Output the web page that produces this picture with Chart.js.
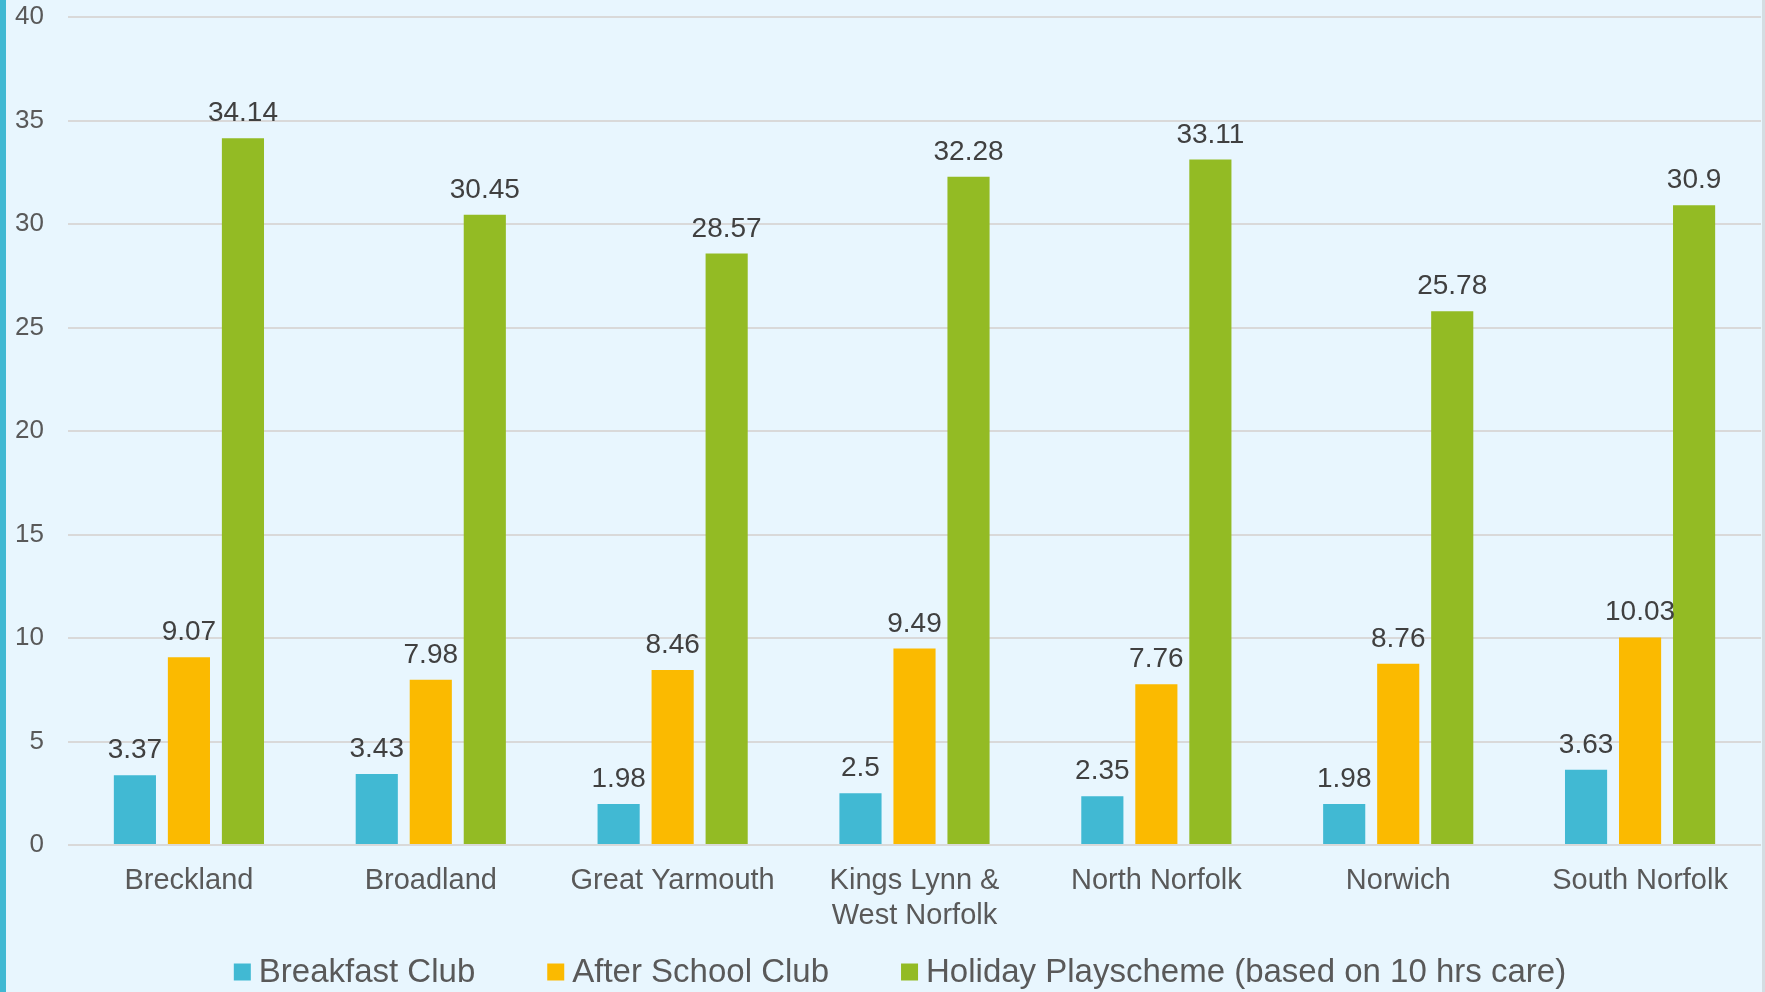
<!DOCTYPE html>
<html>
<head>
<meta charset="utf-8">
<script src="https://cdn.jsdelivr.net/npm/chart.js@4/dist/chart.umd.min.js"></script>
<style>
    html, body { margin: 0; padding: 0; }
    body { width: 1765px; height: 992px; overflow: hidden; }
    #wrap {
        width: 1756px; height: 992px;
        background: #e8f6fe;
        border-left: 6px solid #41b9d3;
        border-right: 3px solid #d3dde2;
    }
    canvas { display: block; }
</style>
</head>
<body>
<div id="wrap"><canvas id="myChart" width="1756" height="992"></canvas></div>
<script>
// Datos
const districts = ['Breckland', 'Broadland', 'Great Yarmouth', ['Kings Lynn &', 'West Norfolk'], 'North Norfolk', 'Norwich', 'South Norfolk'];
const breakfastClub = [3.37, 3.43, 1.98, 2.5, 2.35, 1.98, 3.63];
const afterSchoolClub = [9.07, 7.98, 8.46, 9.49, 7.76, 8.76, 10.03];
const holidayPlayscheme = [34.14, 30.45, 28.57, 32.28, 33.11, 25.78, 30.9];
const seriesNames = ['Breakfast Club', 'After School Club', 'Holiday Playscheme (based on 10 hrs care)'];
const seriesColors = ['#41b9d3', '#fbba00', '#93bb24'];

const FONT = "'Liberation Sans', Arial, sans-serif";

// etiquetas encima de cada barra
const valueLabels = {
    id: 'valueLabels',
    afterDatasetsDraw(chart) {
        const ctx = chart.ctx;
        ctx.save();
        ctx.font = '28px ' + FONT;
        ctx.fillStyle = '#404040';
        ctx.textAlign = 'center';
        ctx.textBaseline = 'alphabetic';
        chart.data.datasets.forEach((ds, i) => {
            chart.getDatasetMeta(i).data.forEach((bar, j) => {
                ctx.fillText(String(ds.data[j]), bar.x, bar.y - 17);
            });
        });
        ctx.restore();
    }
};

// leyenda dibujada a mano para respetar el espaciado
const bottomLegend = {
    id: 'bottomLegend',
    afterDraw(chart) {
        const ctx = chart.ctx;
        ctx.save();
        ctx.font = '33px ' + FONT;
        const box = 17, gapText = 8, gapItem = 72;
        const widths = chart.data.datasets.map(ds => ctx.measureText(ds.label).width);
        let total = widths.reduce((a, w) => a + box + gapText + w, 0) + gapItem * (widths.length - 1);
        let x = 894 - total / 2;
        const y = 972;
        chart.data.datasets.forEach((ds, i) => {
            ctx.fillStyle = ds.backgroundColor;
            ctx.fillRect(x, y - box / 2, box, box);
            ctx.fillStyle = '#595959';
            ctx.textBaseline = 'middle';
            ctx.textAlign = 'left';
            ctx.fillText(ds.label, x + box + gapText, y + 1);
            x += box + gapText + widths[i] + gapItem;
        });
        ctx.restore();
    }
};

const ctxBars = document.getElementById('myChart').getContext('2d');
const barsChart = new Chart(ctxBars, {
    type: 'bar',
    data: {
        labels: districts,
        datasets: [breakfastClub, afterSchoolClub, holidayPlayscheme].map((values, i) => ({
            label: seriesNames[i],
            data: values,
            backgroundColor: seriesColors[i],
            borderWidth: 0,
            categoryPercentage: 0.67,
            barPercentage: 0.78
        }))
    },
    options: {
        responsive: false,
        animation: false,
        layout: {
            padding: { top: 17, right: 1, left: 0, bottom: 0 }
        },
        scales: {
            x: {
                grid: { display: false, drawTicks: false },
                border: { display: false },
                ticks: {
                    color: '#595959',
                    font: { family: FONT, size: 29 },
                    padding: 19,
                    maxRotation: 0,
                    autoSkip: false
                },
                afterFit(scale) { scale.height = 147; }
            },
            y: {
                min: 0,
                max: 40,
                grid: { color: '#d9d9d9', lineWidth: 2, drawTicks: false },
                border: { display: false },
                ticks: {
                    stepSize: 5,
                    color: '#595959',
                    font: { family: FONT, size: 26 },
                    padding: 24
                },
                afterFit(scale) {
                    scale.width = 62;
                    scale.paddingTop = 0;
                    scale.paddingBottom = 0;
                }
            }
        },
        plugins: {
            legend: { display: false },
            tooltip: { enabled: false }
        }
    },
    plugins: [valueLabels, bottomLegend]
});
</script>
</body>
</html>
